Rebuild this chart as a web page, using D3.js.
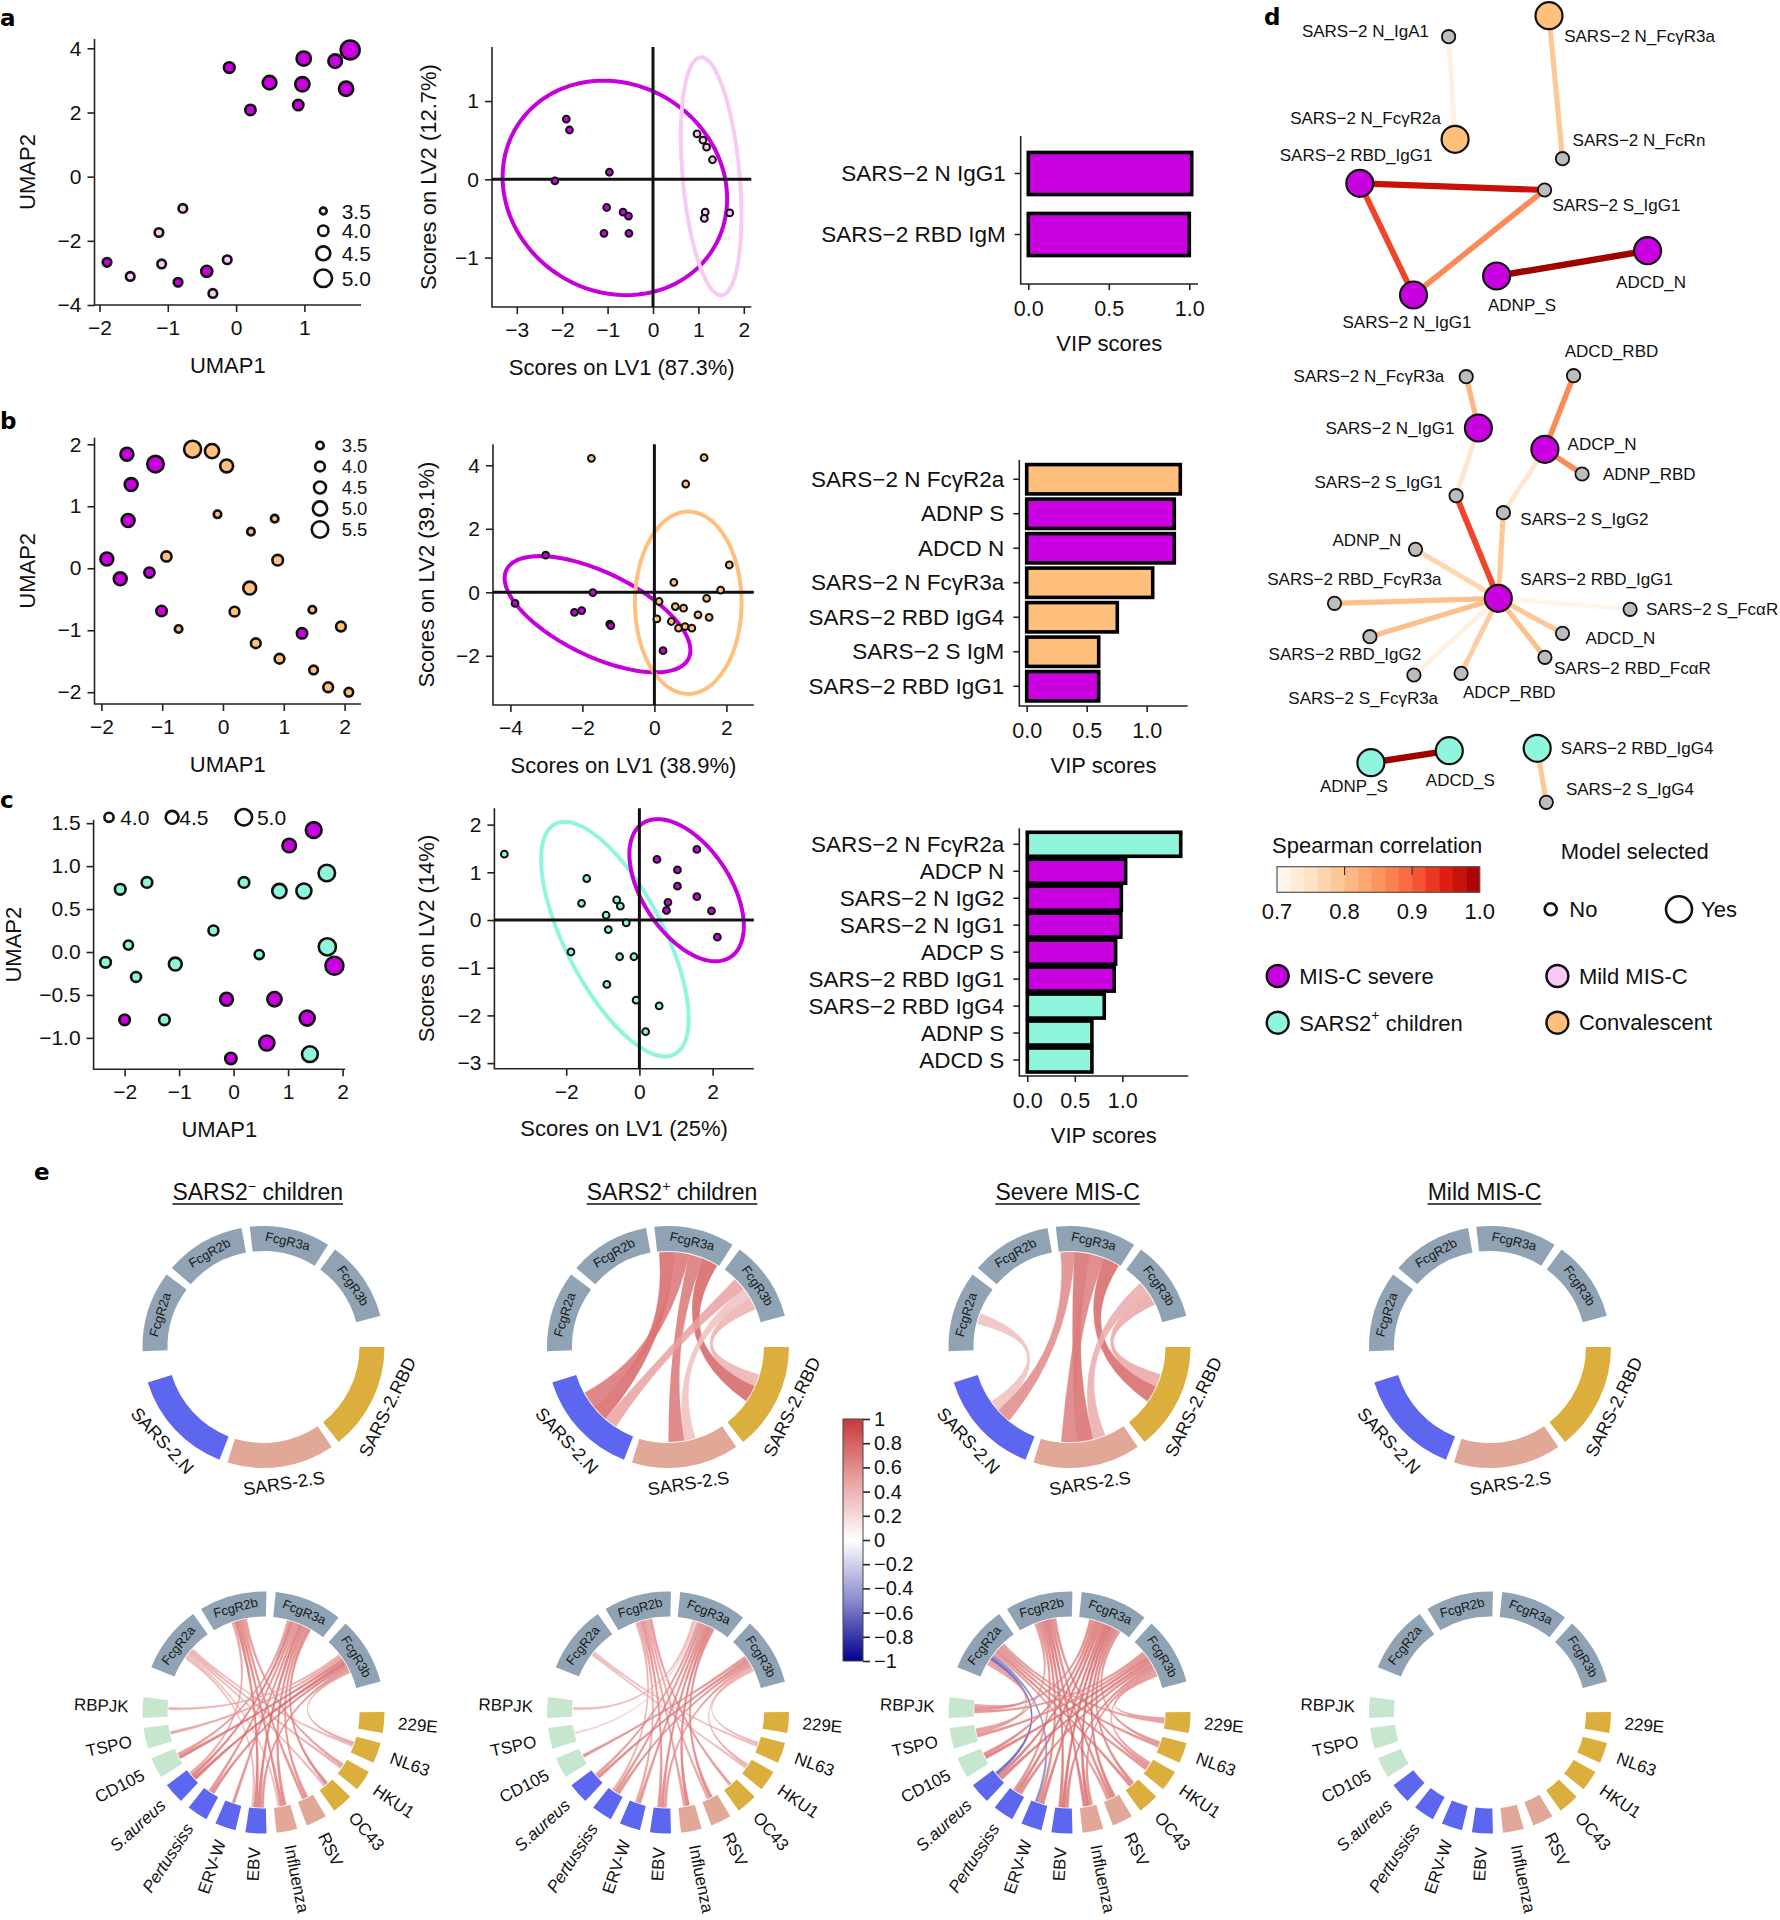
<!DOCTYPE html>
<html><head><meta charset="utf-8">
<script src="https://cdn.jsdelivr.net/npm/d3@7"></script>
<style>
body{margin:0;background:#fff;}
svg{display:block;}
</style></head><body>
<svg id="fig" width="1780" height="1920"></svg>
<script>
// ================= DATA =================
// Panel a
const umapA = [ // [UMAP1, UMAP2, size, group]
 [1.67,3.95,5.2,"sev"],[0.99,3.68,4.55,"sev"],[1.45,3.6,4.45,"sev"],[-0.1,3.4,4.05,"sev"],
 [0.49,2.93,4.45,"sev"],[0.97,2.88,4.55,"sev"],[1.61,2.74,4.55,"sev"],[0.21,2.08,4.0,"sev"],
 [0.91,2.23,4.0,"sev"],[-0.78,-0.99,3.75,"mild"],[-1.13,-1.74,3.75,"mild"],[-1.89,-2.67,3.75,"sev"],
 [-1.09,-2.72,3.75,"mild"],[-0.13,-2.59,3.75,"mild"],[-1.55,-3.11,3.75,"mild"],[-0.85,-3.29,3.75,"sev"],
 [-0.43,-2.95,4.1,"sev"],[-0.34,-3.64,3.75,"mild"]];
const umapA_legend = [3.5,4.0,4.5,5.0];
const plsA = [ // [LV1, LV2, group]
 [-1.91,0.77,"sev"],[-1.84,0.63,"sev"],[-2.16,-0.02,"sev"],[-0.96,0.09,"sev"],[-1.02,-0.36,"sev"],
 [-0.66,-0.42,"sev"],[-0.54,-0.47,"sev"],[-1.08,-0.69,"sev"],[-0.53,-0.69,"sev"],
 [0.97,0.58,"mild"],[1.1,0.5,"mild"],[1.18,0.41,"mild"],[1.31,0.25,"mild"],[1.15,-0.42,"mild"],
 [1.13,-0.5,"mild"],[1.69,-0.43,"mild"]];
const plsA_ellipses = [ // [group, cx, cy, ux, uy, vx, vy]
 ["sev",-0.84,-0.11,2.46,0,-0.25,1.37],["mild",1.28,0.04,0.63,0,-0.22,1.52]];
const vipA_labels = ["SARS−2 N IgG1","SARS−2 RBD IgM"];
const vipA_values = [1.015,1.0];
const vipA_groups = ["sev","sev"];

// Panel b
const umapB = [
 [-1.58,1.84,4.7,"sev"],[-1.11,1.68,5.5,"sev"],[-1.51,1.35,4.7,"sev"],[-1.56,0.77,4.7,"sev"],
 [-1.91,0.15,4.7,"sev"],[-1.69,-0.17,4.7,"sev"],[-1.21,-0.07,4.1,"sev"],[-1.01,-0.69,4.15,"sev"],
 [1.3,-1.05,4.15,"sev"],
 [-0.5,1.92,5.6,"conv"],[-0.18,1.89,5.0,"conv"],[0.06,1.65,4.7,"conv"],[-0.09,0.87,3.5,"conv"],
 [0.85,0.8,3.5,"conv"],[0.46,0.59,3.5,"conv"],[-0.93,0.19,4.1,"conv"],[0.9,0.13,4.2,"conv"],
 [0.44,-0.32,4.7,"conv"],[0.19,-0.7,4.0,"conv"],[1.47,-0.67,3.5,"conv"],[-0.73,-0.98,3.5,"conv"],
 [1.94,-0.94,4.0,"conv"],[0.54,-1.21,4.0,"conv"],[0.93,-1.46,4.0,"conv"],[1.49,-1.64,3.75,"conv"],
 [1.73,-1.92,4.0,"conv"],[2.07,-2.0,3.75,"conv"]];
const umapB_legend = [3.5,4.0,4.5,5.0,5.5];
const plsB = [
 [-1.75,4.22,"conv"],[1.38,4.24,"conv"],[0.87,3.41,"conv"],[2.08,0.86,"conv"],[0.54,0.31,"conv"],
 [1.84,0.07,"conv"],[0.13,-0.29,"conv"],[1.45,-0.19,"conv"],[0.58,-0.45,"conv"],[0.81,-0.5,"conv"],
 [0.07,-0.84,"conv"],[0.47,-0.92,"conv"],[1.21,-0.71,"conv"],[1.52,-0.79,"conv"],[0.67,-1.13,"conv"],
 [0.85,-1.08,"conv"],[1.04,-1.13,"conv"],
 [-3.87,-0.35,"sev"],[-3.02,1.17,"sev"],[-1.71,-0.01,"sev"],[-2.22,-0.63,"sev"],[-2.02,-0.58,"sev"],
 [-1.24,-1.0,"sev"],[-1.21,-1.05,"sev"],[0.24,-1.84,"sev"]];
const plsB_ellipses = [
 ["sev",-1.58,-0.69,2.58,-1.136,0,1.435],["conv",0.94,-0.33,1.48,0,0,2.87]];
const vipB_labels = ["SARS−2 N FcγR2a","ADNP S","ADCD N","SARS−2 N FcγR3a","SARS−2 RBD IgG4","SARS−2 S IgM","SARS−2 RBD IgG1"];
const vipB_values = [1.28,1.23,1.23,1.05,0.755,0.6,0.6];
const vipB_groups = ["conv","sev","sev","conv","conv","conv","sev"];

// Panel c
const umapC = [
 [1.47,1.42,4.9,"sev"],[1.02,1.24,4.6,"sev"],[1.85,-0.16,5.2,"sev"],[-0.13,-0.55,4.5,"sev"],
 [0.75,-0.55,4.7,"sev"],[-2.0,-0.79,4.2,"sev"],[1.35,-0.77,4.8,"sev"],[0.61,-1.06,4.8,"sev"],
 [-0.05,-1.24,4.3,"sev"],
 [-2.08,0.73,4.2,"pos"],[-1.59,0.81,4.2,"pos"],[0.19,0.81,4.2,"pos"],[0.84,0.71,4.7,"pos"],
 [1.29,0.71,4.8,"pos"],[1.71,0.92,5.0,"pos"],[-0.37,0.25,4.1,"pos"],[-1.93,0.08,4.0,"pos"],
 [0.47,-0.03,4.0,"pos"],[1.72,0.06,5.1,"pos"],[-2.35,-0.12,4.2,"pos"],[-1.07,-0.14,4.5,"pos"],
 [-1.79,-0.29,4.1,"pos"],[-1.27,-0.79,4.2,"pos"],[1.4,-1.19,4.9,"pos"]];
const umapC_legend = [4.0,4.5,5.0];
const plsC = [
 [-3.69,1.38,"pos"],[-1.44,0.87,"pos"],[-1.58,0.35,"pos"],[-0.62,0.42,"pos"],[-0.52,0.29,"pos"],
 [-0.91,0.1,"pos"],[-0.85,-0.2,"pos"],[-0.36,-0.06,"pos"],[-1.87,-0.67,"pos"],[-0.54,-0.77,"pos"],
 [-0.15,-0.77,"pos"],[-0.89,-1.35,"pos"],[-0.09,-1.68,"pos"],[0.54,-1.8,"pos"],[0.17,-2.34,"pos"],
 [0.48,1.27,"sev"],[1.57,1.48,"sev"],[1.04,1.05,"sev"],[1.04,0.71,"sev"],[1.57,0.49,"sev"],
 [0.78,0.37,"sev"],[0.74,0.2,"sev"],[1.97,0.19,"sev"],[2.13,-0.36,"sev"]];
const plsC_ellipses = [
 ["pos",-0.67,-0.4,1.48,0,-1.37,2.46],["sev",1.29,0.625,1.35,0,-0.79,1.49]];
const vipC_labels = ["SARS−2 N FcγR2a","ADCP N","SARS−2 N IgG2","SARS−2 N IgG1","ADCP S","SARS−2 RBD IgG1","SARS−2 RBD IgG4","ADNP S","ADCD S"];
const vipC_values = [1.615,1.035,0.99,0.985,0.93,0.915,0.81,0.68,0.68];
const vipC_groups = ["pos","sev","sev","sev","sev","sev","pos","pos","pos"];

// Panel d : network (layout coordinates within panel d)
const netNodes = [ // id, label, group, selected, lx, ly, labelX, labelY, anchor
 ["N_IgA1","SARS−2 N_IgA1","none",0,198.6,36.7,179,31.7,"end"],
 ["N_FcR3a","SARS−2 N_FcγR3a","conv",1,299,15.7,314.2,36.7,"start"],
 ["N_FcR2a","SARS−2 N_FcγR2a","conv",1,205.1,139.3,190.9,118.3,"end"],
 ["N_FcRn","SARS−2 N_FcRn","none",0,312.5,158.7,322.6,140,"start"],
 ["RBD_IgG1","SARS−2 RBD_IgG1","sev",1,109.8,183.3,182.4,155,"end"],
 ["S_IgG1","SARS−2 S_IgG1","none",0,294.6,190,302.4,205,"start"],
 ["N_IgG1","SARS−2 N_IgG1","sev",1,163.5,295,157,322.7,"middle"],
 ["ADNP_S","ADNP_S","sev",1,246.6,276,272,305,"middle"],
 ["ADCD_N","ADCD_N","sev",1,397.6,250.7,401,282.7,"middle"],
 ["N_FcR3a_2","SARS−2 N_FcγR3a","none",0,216.2,376.7,194.3,376.7,"end"],
 ["N_IgG1_2","SARS−2 N_IgG1","sev",1,228.4,428,204.4,428,"end"],
 ["ADCD_RBD","ADCD_RBD","none",0,323.6,375.7,361.5,351.7,"middle"],
 ["ADCP_N","ADCP_N","sev",1,294.9,449.3,317.6,444,"start"],
 ["ADNP_RBD","ADNP_RBD","none",0,332.1,474,353,474,"start"],
 ["S_IgG1_2","SARS−2 S_IgG1","none",0,206.1,495.7,192.6,482.7,"end"],
 ["S_IgG2","SARS−2 S_IgG2","none",0,253.4,512.7,270.3,519,"start"],
 ["ADNP_N","ADNP_N","none",0,165.5,549.3,151.4,540.7,"end"],
 ["RBD_IgG1_2","SARS−2 RBD_IgG1","sev",1,248.3,598.3,270.3,579.3,"start"],
 ["RBD_FcR3a","SARS−2 RBD_FcγR3a","none",0,84.5,603.3,104.4,579.3,"middle"],
 ["S_FcaR","SARS−2 S_FcαR","none",0,380.1,609.3,396,609.3,"start"],
 ["RBD_IgG2","SARS−2 RBD_IgG2","none",0,119.9,636.7,94.9,654,"middle"],
 ["ADCD_N_2","ADCD_N","none",0,312.5,633.3,335.5,638.3,"start"],
 ["RBD_FcaR","SARS−2 RBD_FcαR","none",0,294.9,657.3,304,668.3,"start"],
 ["S_FcR3a","SARS−2 S_FcγR3a","none",0,163.9,675,113.2,698.3,"middle"],
 ["ADCP_RBD","ADCP_RBD","none",0,211.1,673.3,259.3,692.7,"middle"],
 ["ADNP_S_2","ADNP_S","pos",1,120.9,762.7,103.9,786.7,"middle"],
 ["ADCD_S","ADCD_S","pos",1,199.3,750.7,210.3,780,"middle"],
 ["RBD_IgG4","SARS−2 RBD_IgG4","pos",1,287.2,748.3,310.8,748.3,"start"],
 ["S_IgG4","SARS−2 S_IgG4","none",0,296.3,802.3,315.9,789.3,"start"]];
const netEdges = [ // from, to, Spearman r
 ["N_IgA1","N_FcR2a",0.72],["N_FcR3a","N_FcRn",0.79],["RBD_IgG1","S_IgG1",0.97],
 ["RBD_IgG1","N_IgG1",0.92],["N_IgG1","S_IgG1",0.86],["ADNP_S","ADCD_N",1.0],
 ["N_FcR3a_2","N_IgG1_2",0.81],["N_IgG1_2","S_IgG1_2",0.74],["S_IgG1_2","RBD_IgG1_2",0.92],
 ["ADCD_RBD","ADCP_N",0.86],["ADCP_N","ADNP_RBD",0.86],["ADCP_N","S_IgG2",0.74],
 ["S_IgG2","RBD_IgG1_2",0.79],["ADNP_N","RBD_IgG1_2",0.77],["RBD_FcR3a","RBD_IgG1_2",0.8],
 ["RBD_IgG2","RBD_IgG1_2",0.8],["S_FcR3a","RBD_IgG1_2",0.72],["ADCP_RBD","RBD_IgG1_2",0.78],
 ["RBD_FcaR","RBD_IgG1_2",0.8],["ADCD_N_2","RBD_IgG1_2",0.79],["S_FcaR","RBD_IgG1_2",0.71],
 ["ADNP_S_2","ADCD_S",1.0],["RBD_IgG4","S_IgG4",0.79]];
const spearmanTicks = [0.7,0.8,0.9,1.0];
const groupLegend = [["sev","MIS-C severe"],["mild","Mild MIS-C"],["pos","SARS2+ children"],["conv","Convalescent"]];

// Panel e : chord diagrams
const chordTitles = ["SARS2− children","SARS2+ children","Severe MIS-C","Mild MIS-C"];
const topSectors = ["FcgR2a","FcgR2b","FcgR3a","FcgR3b","SARS-2.RBD","SARS-2.S","SARS-2.N"];
const topLinks = [
 [],
 [["FcgR3a","SARS-2.N",0.78],["FcgR3a","SARS-2.N",0.72],["FcgR3a","SARS-2.S",0.7],["FcgR3a","SARS-2.RBD",0.8],
  ["FcgR3b","SARS-2.N",0.5],["FcgR3b","SARS-2.S",0.33],["FcgR3b","SARS-2.RBD",0.42]],
 [["FcgR2a","SARS-2.N",0.33],["FcgR3a","SARS-2.N",0.62],["FcgR3a","SARS-2.S",0.75],["FcgR3a","SARS-2.S",0.68],
  ["FcgR3a","SARS-2.RBD",0.78],["FcgR3b","SARS-2.S",0.45],["FcgR3b","SARS-2.RBD",0.48]],
 []];
const bottomSectors = ["FcgR2a","FcgR2b","FcgR3a","FcgR3b","229E","NL63","HKU1","OC43","RSV","Influenza","EBV","ERV-W","Pertussiss","S.aureus","CD105","TSPO","RBPJK"];
const bottomLinks = [
 [["FcgR2a","NL63",0.45],["FcgR2a","HKU1",0.5],["FcgR2a","OC43",0.45],["FcgR2a","Influenza",0.4],["FcgR2a","EBV",0.45],
  ["FcgR2b","Influenza",0.7],["FcgR2b","RSV",0.65],["FcgR2b","EBV",0.75],["FcgR2b","HKU1",0.6],["FcgR2b","S.aureus",0.55],
  ["FcgR3a","EBV",0.75],["FcgR3a","Influenza",0.7],["FcgR3a","ERV-W",0.65],["FcgR3a","S.aureus",0.75],["FcgR3a","Pertussiss",0.65],
  ["FcgR3a","CD105",0.6],["FcgR3a","RSV",0.65],["FcgR3a","OC43",0.7],
  ["FcgR3b","S.aureus",0.8],["FcgR3b","CD105",0.75],["FcgR3b","Pertussiss",0.7],["FcgR3b","RBPJK",0.5],["FcgR3b","TSPO",0.55],
  ["FcgR3b","NL63",0.55],["FcgR3b","EBV",0.65]],
 [["FcgR2a","HKU1",0.45],["FcgR2a","NL63",0.4],
  ["FcgR2b","EBV",0.65],["FcgR2b","Influenza",0.6],["FcgR2b","ERV-W",0.55],["FcgR2b","Pertussiss",0.5],["FcgR2b","RSV",0.55],["FcgR2b","OC43",0.6],
  ["FcgR3a","EBV",0.7],["FcgR3a","Influenza",0.75],["FcgR3a","RSV",0.7],["FcgR3a","Pertussiss",0.65],["FcgR3a","S.aureus",0.6],
  ["FcgR3a","ERV-W",0.65],["FcgR3a","RBPJK",0.45],["FcgR3a","TSPO",0.3],
  ["FcgR3b","CD105",0.65],["FcgR3b","S.aureus",0.7],["FcgR3b","Pertussiss",0.65],["FcgR3b","EBV",0.6],["FcgR3b","HKU1",0.5],["FcgR3b","NL63",0.45]],
 [["FcgR2a","S.aureus",-0.7],["FcgR2a","ERV-W",-0.55],["FcgR2a","OC43",0.7],["FcgR2a","HKU1",0.65],["FcgR2a","229E",0.6],
  ["FcgR2a","NL63",0.65],["FcgR2a","RSV",0.6],["FcgR2a","TSPO",0.6],["FcgR2a","RBPJK",0.55],
  ["FcgR2b","EBV",0.75],["FcgR2b","Influenza",0.75],["FcgR2b","RSV",0.7],["FcgR2b","ERV-W",0.7],["FcgR2b","Pertussiss",0.65],
  ["FcgR2b","HKU1",0.65],["FcgR2b","TSPO",0.6],
  ["FcgR3a","EBV",0.8],["FcgR3a","Influenza",0.8],["FcgR3a","RSV",0.75],["FcgR3a","Pertussiss",0.75],["FcgR3a","S.aureus",0.75],
  ["FcgR3a","CD105",0.7],["FcgR3a","OC43",0.7],["FcgR3a","RBPJK",0.65],["FcgR3a","NL63",0.65],["FcgR3a","ERV-W",0.75],
  ["FcgR3b","S.aureus",0.75],["FcgR3b","CD105",0.75],["FcgR3b","Pertussiss",0.7],["FcgR3b","EBV",0.7],["FcgR3b","Influenza",0.65],
  ["FcgR3b","TSPO",0.65],["FcgR3b","RBPJK",0.65],["FcgR3b","HKU1",0.6],["FcgR3b","229E",0.6]],
 []];
const corrTicks = [1,0.8,0.6,0.4,0.2,0,-0.2,-0.4,-0.6,-0.8,-1];

// ================= STYLE =================
const FONT = "'Liberation Sans', Arial, Helvetica, sans-serif";
const GCOL = {sev:"#c900e0", mild:"#f8c9f4", conv:"#ffc07e", pos:"#8ff5dc", none:"#bdbdbd"};
const svg = d3.select("#fig").attr("font-family", FONT);
const rad = d => d*Math.PI/180;

// panel letters
[["a",0,26],["b",0,429],["c",0,808],["d",1264,25],["e",34,1180]].forEach(([t,x,y])=>
  svg.append("text").attr("x",x).attr("y",y).text(t).attr("font-size",23).attr("font-weight","bold")
     .attr("font-family","'DejaVu Sans', 'Liberation Sans', sans-serif").attr("fill","#000"));

function styleAxis(a, fs){
  a.select(".domain").remove();
  a.attr("font-family",FONT).attr("font-size",fs);
  a.selectAll("line").attr("stroke","#222").attr("stroke-width",1.6);
  a.selectAll("text").attr("fill","#111");
}

function frame(o){
  const g = svg.append("g");
  const x = d3.scaleLinear().domain(o.xlim).range(o.xr);
  const y = d3.scaleLinear().domain(o.ylim).range(o.yr);
  const X0=x(o.xlim[0]), X1=x(o.xlim[1]), Y0=y(o.ylim[0]), Y1=y(o.ylim[1]);
  g.append("path").attr("d",`M${X0},${Y1}V${Y0}H${X1}`).attr("fill","none").attr("stroke","#222").attr("stroke-width",1.6);
  const ax = g.append("g").attr("transform",`translate(0,${Y0})`)
    .call(d3.axisBottom(x).tickValues(o.xticks).tickFormat(d3.format(o.xfmt)).tickSize(7).tickPadding(8));
  const ay = g.append("g").attr("transform",`translate(${X0},0)`)
    .call(d3.axisLeft(y).tickValues(o.yticks).tickFormat(d3.format(o.yfmt)).tickSize(7).tickPadding(6));
  styleAxis(ax,21); styleAxis(ay,21);
  g.append("text").attr("x",(X0+X1)/2).attr("y",Y0+60).attr("text-anchor","middle").attr("dominant-baseline","central")
   .attr("font-size",22).attr("fill","#111").text(o.xlab);
  g.append("text").attr("transform",`translate(${o.ylabX},${(Y0+Y1)/2}) rotate(-90)`).attr("text-anchor","middle")
   .attr("dominant-baseline","central").attr("font-size",22).attr("fill","#111").text(o.ylab);
  return {g,x,y,X0,X1,Y0,Y1};
}

function umap(o){
  const f = frame(o);
  const r = d3.scaleLinear().domain(o.rdom).range(o.rrng);
  f.g.append("g").selectAll("circle").data(o.data).join("circle")
    .attr("cx",d=>f.x(d[0])).attr("cy",d=>f.y(d[1])).attr("r",d=>r(d[2]))
    .attr("fill",d=>GCOL[d[3]]).attr("stroke","#111").attr("stroke-width",2.6);
  const lg = f.g.append("g");
  o.legend.forEach((v,i)=>{
    const p = o.legendPos(i);
    lg.append("circle").attr("cx",p[0]).attr("cy",p[1]).attr("r",r(v)).attr("fill","#fff").attr("stroke","#111").attr("stroke-width",2.6);
    lg.append("text").attr("x",p[2]).attr("y",p[1]).attr("dominant-baseline","central").attr("font-size",o.legendFont||21).attr("fill","#111").text(d3.format(".1f")(v));
  });
}

function pls(o){
  const f = frame(o);
  const line = d3.line().x(d=>f.x(d[0])).y(d=>f.y(d[1])).curve(d3.curveLinearClosed);
  o.ellipses.forEach(([gp,cx,cy,ux,uy,vx,vy])=>{
    const pts = d3.range(0,120).map(i=>{const t=i/120*2*Math.PI; return [cx+ux*Math.cos(t)+vx*Math.sin(t), cy+uy*Math.cos(t)+vy*Math.sin(t)];});
    f.g.append("path").attr("d",line(pts)).attr("fill","none").attr("stroke",gp==="sev"?"#c600dc":GCOL[gp]).attr("stroke-width",4);
  });
  f.g.append("line").attr("x1",f.x(0)).attr("x2",f.x(0)).attr("y1",f.Y0).attr("y2",f.Y1).attr("stroke","#111").attr("stroke-width",3);
  f.g.append("line").attr("x1",f.X0).attr("x2",f.X1).attr("y1",f.y(0)).attr("y2",f.y(0)).attr("stroke","#111").attr("stroke-width",3);
  f.g.append("g").selectAll("circle").data(o.data).join("circle")
    .attr("cx",d=>f.x(d[0])).attr("cy",d=>f.y(d[1])).attr("r",3.4)
    .attr("fill",d=>GCOL[d[2]]).attr("stroke","#111").attr("stroke-width",2);
}

function vip(o){
  const g = svg.append("g");
  const x = d3.scaleLinear().domain([0,1]).range(o.xr);
  const y = d3.scaleBand().domain(o.labels).range(o.yr);
  const AX = o.axisX, AY = o.axisY;
  g.append("path").attr("d",`M${AX},${o.topY}V${AY}H${o.rightX}`).attr("fill","none").attr("stroke","#222").attr("stroke-width",1.6);
  const bh = y.step()*o.frac;
  g.selectAll("rect").data(o.values).join("rect")
    .attr("x",x(0)).attr("y",(d,i)=>y(o.labels[i])+(y.step()-bh)/2)
    .attr("width",d=>x(d)-x(0)).attr("height",bh)
    .attr("fill",(d,i)=>GCOL[o.groups[i]]).attr("stroke","#000").attr("stroke-width",3.6);
  o.labels.forEach(l=>{
    const cy = y(l)+y.step()/2;
    g.append("line").attr("x1",AX-6).attr("x2",AX).attr("y1",cy).attr("y2",cy).attr("stroke","#222").attr("stroke-width",1.6);
    g.append("text").attr("x",AX-15).attr("y",cy).attr("text-anchor","end").attr("dominant-baseline","central")
      .attr("font-size",22.5).attr("fill","#111").text(l);
  });
  const ax = g.append("g").attr("transform",`translate(0,${AY})`)
    .call(d3.axisBottom(x).tickValues([0,0.5,1]).tickFormat(d3.format(".1f")).tickSize(6).tickPadding(11));
  styleAxis(ax,21.5);
  g.append("text").attr("x",(AX+o.rightX)/2).attr("y",AY+59).attr("text-anchor","middle").attr("dominant-baseline","central")
    .attr("font-size",22).attr("fill","#111").text("VIP scores");
}

// ---- Panel a
umap({data:umapA, xlim:[-2.073,1.83], xr:[94.5,361.1], ylim:[-4,4.29], yr:[305,39],
  xticks:[-2,-1,0,1], yticks:[-4,-2,0,2,4], xfmt:"d", yfmt:"d", xlab:"UMAP1", ylab:"UMAP2", ylabX:27,
  rdom:[3.5,5.0], rrng:[3.4,8.75], legend:umapA_legend,
  legendPos:i=>[323.3,[211,230.7,253.3,278.3][i],341.7]});
pls({data:plsA, ellipses:plsA_ellipses, xlim:[-3.546,2.165], xr:[492,751.3], ylim:[-1.631,1.69], yr:[307,47],
  xticks:[-3,-2,-1,0,1,2], yticks:[-1,0,1], xfmt:"d", yfmt:"d", xlab:"Scores on LV1 (87.3%)", ylab:"Scores on LV2 (12.7%)", ylabX:428.5});
vip({labels:vipA_labels, values:vipA_values, groups:vipA_groups, xr:[1028.3,1189.3], yr:[143,265],
  axisX:1020.7, axisY:284, topY:136, rightX:1198, frac:0.69});

// ---- Panel b
umap({data:umapB, xlim:[-2.113,2.27], xr:[94.5,361], ylim:[-2.19,2.106], yr:[704,437.7],
  xticks:[-2,-1,0,1,2], yticks:[-2,-1,0,1,2], xfmt:"d", yfmt:"d", xlab:"UMAP1", ylab:"UMAP2", ylabX:27,
  rdom:[3.5,5.5], rrng:[3.75,8.25], legend:umapB_legend, legendFont:18.5,
  legendPos:i=>[320,[445.5,466.5,487.5,508.5,529.5][i],341.7]});
pls({data:plsB, ellipses:plsB_ellipses, xlim:[-4.483,2.761], xr:[493,753.8], ylim:[-3.55,4.661], yr:[705,444.3],
  xticks:[-4,-2,0,2], yticks:[-2,0,2,4], xfmt:"d", yfmt:"d", xlab:"Scores on LV1 (38.9%)", ylab:"Scores on LV2 (39.1%)", ylabX:426});
vip({labels:vipB_labels, values:vipB_values, groups:vipB_groups, xr:[1026.7,1146.7], yr:[462,703.5],
  axisX:1019.3, axisY:706, topY:460, rightX:1187.7, frac:0.85});

// ---- Panel c
umap({data:umapC, xlim:[-2.569,2.044], xr:[93.6,345], ylim:[-1.366,1.537], yr:[1069.3,820],
  xticks:[-2,-1,0,1,2], yticks:[-1,-0.5,0,0.5,1,1.5], xfmt:"d", yfmt:".1f", xlab:"UMAP1", ylab:"UMAP2", ylabX:13,
  rdom:[4.0,5.0], rrng:[4.6,8.25], legend:umapC_legend,
  legendPos:i=>[[109,172.1,243.8][i],817.3,[120.2,179.3,256.9][i]]});
pls({data:plsC, ellipses:plsC_ellipses, xlim:[-3.962,3.126], xr:[494.4,753.8], ylim:[-3.117,2.342], yr:[1068.7,808.3],
  xticks:[-2,0,2], yticks:[-3,-2,-1,0,1,2], xfmt:"d", yfmt:"d", xlab:"Scores on LV1 (25%)", ylab:"Scores on LV2 (14%)", ylabX:426});
vip({labels:vipC_labels, values:vipC_values, groups:vipC_groups, xr:[1027.3,1122.3], yr:[830.8,1073.5],
  axisX:1019.3, axisY:1076, topY:828.3, rightX:1188.3, frac:0.89});

// ---- Panel d : network
const nx = d3.scaleLinear().domain([0,530]).range([1250,1780]);
const ny = d3.scaleLinear().domain([0,1050]).range([0,1050]);
const netColor = d3.scaleLinear().domain([0.7,0.75,0.8,0.85,0.9,0.95,1.0])
  .range(["#fff9f0","#fee3c6","#fdc08a","#fc9560","#f9603c","#e11d12","#a00000"]).clamp(true);
const nodeById = new Map(netNodes.map(n=>[n[0],n]));
const dg = svg.append("g");
dg.selectAll("line").data(netEdges).join("line")
  .attr("x1",e=>nx(nodeById.get(e[0])[4])).attr("y1",e=>ny(nodeById.get(e[0])[5]))
  .attr("x2",e=>nx(nodeById.get(e[1])[4])).attr("y2",e=>ny(nodeById.get(e[1])[5]))
  .attr("stroke",e=>netColor(e[2])).attr("stroke-width",e=>4.6+(e[2]-0.7)*6);
dg.selectAll("circle").data(netNodes).join("circle")
  .attr("cx",n=>nx(n[4])).attr("cy",n=>ny(n[5])).attr("r",n=>n[3]?13.5:6.7)
  .attr("fill",n=>GCOL[n[2]]).attr("stroke","#111").attr("stroke-width",n=>n[3]?2.2:1.8);
dg.selectAll("text").data(netNodes).join("text")
  .attr("x",n=>nx(n[6])).attr("y",n=>ny(n[7])).attr("text-anchor",n=>n[8]).attr("dominant-baseline","central")
  .attr("font-size",17).attr("fill","#111").text(n=>n[1]);

// legend d
const lgd = svg.append("g");
lgd.append("text").attr("x",1272).attr("y",845).attr("dominant-baseline","central").attr("font-size",22).attr("fill","#111").text("Spearman correlation");
const cbx = d3.scaleLinear().domain([0.7,1.0]).range([1277,1479.7]);
const steps = d3.range(15).map(i=>0.7+i*0.02);
lgd.selectAll("rect.cb").data(steps).join("rect").attr("class","cb")
  .attr("x",d=>cbx(d)).attr("y",866.7).attr("width",cbx(0.72)-cbx(0.7)+0.4).attr("height",25.6)
  .attr("fill",d=>netColor(d+0.01));
lgd.append("rect").attr("x",cbx(0.7)).attr("y",866.7).attr("width",cbx(1)-cbx(0.7)).attr("height",25.6)
  .attr("fill","none").attr("stroke","#555").attr("stroke-width",1.2);
[0.8,0.9].forEach(v=>lgd.append("line").attr("x1",cbx(v)).attr("x2",cbx(v)).attr("y1",866.7).attr("y2",875).attr("stroke","#333").attr("stroke-width",1.2));
lgd.selectAll("text.cbt").data(spearmanTicks).join("text").attr("class","cbt")
  .attr("x",d=>cbx(d)).attr("y",911.7).attr("text-anchor","middle").attr("dominant-baseline","central")
  .attr("font-size",22).attr("fill","#111").text(d=>d3.format(".1f")(d));
lgd.append("text").attr("x",1560.8).attr("y",851).attr("dominant-baseline","central").attr("font-size",22).attr("fill","#111").text("Model selected");
lgd.append("circle").attr("cx",1550.7).attr("cy",909.3).attr("r",6).attr("fill","#fff").attr("stroke","#111").attr("stroke-width",2.6);
lgd.append("text").attr("x",1569.3).attr("y",909.3).attr("dominant-baseline","central").attr("font-size",22).attr("fill","#111").text("No");
lgd.append("circle").attr("cx",1679).attr("cy",909.3).attr("r",13).attr("fill","#fff").attr("stroke","#111").attr("stroke-width",2.6);
lgd.append("text").attr("x",1701).attr("y",909.3).attr("dominant-baseline","central").attr("font-size",22).attr("fill","#111").text("Yes");
groupLegend.forEach(([gp,lab],i)=>{
  const cx = i%2===0 ? 1277.7 : 1557.4, cy = i<2 ? 976 : 1022.7;
  lgd.append("circle").attr("cx",cx).attr("cy",cy).attr("r",11).attr("fill",GCOL[gp]).attr("stroke","#111").attr("stroke-width",2.4);
  const t = lgd.append("text").attr("x",cx+21.5).attr("y",cy).attr("dominant-baseline","central").attr("font-size",22).attr("fill","#111");
  if(lab.includes("+")){
    const [a,b] = lab.split("+");
    t.append("tspan").text(a);
    t.append("tspan").attr("dy",-8).attr("font-size",14).text("+");
    t.append("tspan").attr("dy",8).text(b);
  } else t.text(lab);
});

// ---- Panel e : chords
const corrColor = d3.scaleLinear().domain([-1,-0.5,0,0.5,1]).range(["#00008b","#8a8ad0","#ffffff","#e9a0a0","#c73a3a"]);
const SECCOL = n => n.startsWith("Fcg") ? "#8fa3b4"
  : (["SARS-2.N","EBV","ERV-W","Pertussiss","S.aureus"].includes(n) ? "#5c66ef"
  : (["SARS-2.S","RSV","Influenza"].includes(n) ? "#e1a898"
  : (["CD105","TSPO","RBPJK"].includes(n) ? "#c6e6cd" : "#dcae3d")));

function layoutSectors(names, spanOf, gapOf, start){
  let a = start;
  return names.map((n,i)=>{const s=a, e=a+spanOf(n); a=e+gapOf(i); return {name:n,s,e,c:(s+e)/2};});
}
function allocLinks(secs, links, wOf){
  const by = new Map(secs.map(s=>[s.name,s]));
  const ends = new Map();
  const out = links.map(([a,b,v])=>({a,b,v,w:wOf(v)}));
  out.forEach(l=>{
    [[l.a,l.b,"sa"],[l.b,l.a,"sb"]].forEach(([me,other,key])=>{
      if(!ends.has(me)) ends.set(me,[]);
      ends.get(me).push({l,key,d:(((by.get(other).c-by.get(me).c)%360)+360)%360});
    });
  });
  ends.forEach((arr,name)=>{
    const s = by.get(name);
    arr.sort((p,q)=>q.d-p.d);
    const tot = d3.sum(arr,e=>e.l.w), span = s.e-s.s;
    const k = tot>span*0.94 ? span*0.94/tot : 1;
    let a = s.c - tot*k/2;
    arr.forEach(e=>{e.l[e.key]=[a,a+e.l.w*k]; a+=e.l.w*k;});
  });
  return out;
}
const R_OUT = 121, R_IN = 96;
function drawChord(cx, cy, secs, links, o){
  const g = svg.append("g").attr("transform",`translate(${cx},${cy})`);
  const ribs = allocLinks(secs, links, o.wOf);
  const ribbon = d3.ribbon().radius(R_IN-1);
  g.selectAll("path.rib").data(ribs).join("path").attr("class","rib")
    .attr("d",d=>ribbon({source:{startAngle:rad(d.sa[0]),endAngle:rad(d.sa[1])},target:{startAngle:rad(d.sb[0]),endAngle:rad(d.sb[1])}}))
    .attr("fill",d=>corrColor(d.v)).attr("fill-opacity",o.op)
    .attr("stroke",d=>corrColor(d.v)).attr("stroke-opacity",o.op*0.5).attr("stroke-width",0.6);
  const arc = d3.arc().innerRadius(R_IN).outerRadius(R_OUT);
  g.selectAll("path.sec").data(secs).join("path").attr("class","sec")
    .attr("d",d=>arc({startAngle:rad(d.s),endAngle:rad(d.e)})).attr("fill",d=>SECCOL(d.name));
  secs.forEach(s=>{
    const c = s.c, cr = rad(c);
    if(s.name.startsWith("Fcg")){
      const r=(R_IN+R_OUT)/2;
      g.append("text").attr("transform",`translate(${r*Math.sin(cr)},${-r*Math.cos(cr)}) rotate(${c})`)
        .attr("text-anchor","middle").attr("dominant-baseline","central").attr("font-size",13).attr("fill","#1a1a1a").text(s.name);
    } else if(o.radial){
      const r = R_OUT+14, cc = ((c%360)+360)%360;
      const right = cc<180;
      g.append("text").attr("transform",`translate(${r*Math.sin(cr)},${-r*Math.cos(cr)}) rotate(${right?cc-90:cc+90})`)
        .attr("text-anchor",right?"start":"end").attr("dominant-baseline","central").attr("font-size",17).attr("fill","#111")
        .attr("font-style",["S.aureus","Pertussiss"].includes(s.name)?"italic":"normal").text(s.name);
    } else {
      const r = R_OUT+17;
      g.append("text").attr("transform",`translate(${r*Math.sin(cr)},${-r*Math.cos(cr)}) rotate(${c-180})`)
        .attr("text-anchor","middle").attr("dominant-baseline","central").attr("font-size",18).attr("fill","#111").text(s.name);
    }
  });
}
const chordCX = [263.5, 668, 1069.5, 1490];
const titleCX = [257.7, 672, 1067.6, 1484.5];
const topSecs = layoutSectors(topSectors, n=>n.startsWith("Fcg")?38.75:155/3, i=>(i===3||i===6)?15:4, 268);
const botSecs = layoutSectors(bottomSectors, n=>n.startsWith("Fcg")?32.5:10,
  i=> i<3 ? 4.4 : (i===3||i===16) ? 14.6 : 4.8, 292);
chordTitles.forEach((t,i)=>{
  const tx = svg.append("text").attr("x",titleCX[i]).attr("y",1200).attr("text-anchor","middle").attr("font-size",23).attr("fill","#111");
  const m = t.match(/^(SARS2)([−+])( children)$/);
  if(m){
    tx.append("tspan").text(m[1]);
    tx.append("tspan").attr("dy",-9).attr("font-size",14).text(m[2]);
    tx.append("tspan").attr("dy",9).text(m[3]);
  } else tx.text(t);
  const bb = tx.node().getBBox();
  svg.append("line").attr("x1",bb.x).attr("x2",bb.x+bb.width).attr("y1",1204).attr("y2",1204).attr("stroke","#111").attr("stroke-width",1.4);
  drawChord(chordCX[i], 1347, topSecs, topLinks[i], {wOf:v=>4+Math.abs(v)*8, op:0.85, radial:false});
  drawChord(chordCX[i], 1712.5, botSecs, bottomLinks[i], {wOf:v=>0.7+Math.abs(v)*1.8, op:0.8, radial:true});
});

// correlation colorbar
const cby = d3.scaleLinear().domain([-1,1]).range([1661,1419]);
const defs = svg.append("defs");
const grad = defs.append("linearGradient").attr("id","corrg").attr("x1",0).attr("x2",0).attr("y1",1).attr("y2",0);
d3.range(-1,1.001,0.1).forEach(v=>grad.append("stop").attr("offset",(v+1)/2).attr("stop-color",corrColor(v)));
svg.append("rect").attr("x",843).attr("y",cby(1)).attr("width",20).attr("height",cby(-1)-cby(1)).attr("fill","url(#corrg)")
  .attr("stroke","#444").attr("stroke-width",1);
const cbAxis = svg.append("g").attr("transform","translate(863,0)")
  .call(d3.axisRight(cby).tickValues(corrTicks).tickFormat(d3.format("~g")).tickSize(7).tickPadding(4));
styleAxis(cbAxis,20);
</script></body></html>
